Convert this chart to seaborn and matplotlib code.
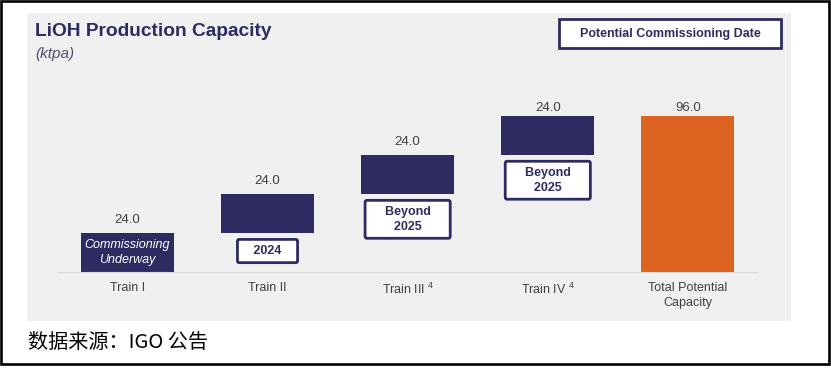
import matplotlib
matplotlib.use('Agg')
import matplotlib.pyplot as plt
import seaborn as sns
import pandas as pd
from matplotlib.patches import Rectangle

categories = ['Train I', 'Train II', 'Train III', 'Train IV', 'Total Potential\nCapacity']
footnotes = ['', '', '4', '4', '']
capacity = [24.0, 24.0, 24.0, 24.0, 96.0]
dates = ['Commissioning\nUnderway', '2024', 'Beyond\n2025', 'Beyond\n2025', '']

navy = '#2e2b63'
orange = '#dc6420'
panel = '#f0f0f0'
grey_txt = '#404040'

sns.set_style('white')
plt.rcParams['font.family'] = ['Liberation Sans', 'DejaVu Sans']
plt.rcParams['mathtext.default'] = 'regular'

# waterfall: trains stack on each other, the total starts from zero
bases = [sum(capacity[:i]) for i in range(4)] + [0.0]
labels = [c + (f' $^{{{f}}}$' if f else '') for c, f in zip(categories, footnotes)]
df = pd.DataFrame({'cat': labels, 'cap': capacity})

W, H = 831, 368
fig = plt.figure(figsize=(W / 100, H / 100), dpi=100)
fig.patch.set_facecolor('white')

# grey panel + black frame
fig.add_artist(Rectangle((27 / W, 47.3 / H), 764 / W, 308 / H, transform=fig.transFigure,
                         facecolor=panel, edgecolor='none', zorder=0))
fig.add_artist(Rectangle((1.3 / W, 4.5 / H), 827.7 / W, 362.7 / H, transform=fig.transFigure,
                         facecolor='none', edgecolor='black', lw=1.9, zorder=5))

ax = fig.add_axes([57.3 / W, (H - 272.3) / H, 700.7 / W, 232.3 / H])
ax.set_facecolor('none')

sns.barplot(data=df, x='cat', y='cap', bottom=bases, color=navy, saturation=1,
            width=0.664, errorbar=None, linewidth=0, ax=ax)
ax.patches[-1].set_facecolor(orange)

# the last two labels sit a little closer to their bars in the original
label_pad = [5, 5, 5, 1.5, 1.5]
for i, (b, v) in enumerate(zip(bases, capacity)):
    ax.annotate(f'{v:.1f}', (i, b + v), xytext=(0, label_pad[i]), textcoords='offset points',
                ha='center', va='bottom', fontsize=9.5, color=grey_txt)

# commissioning dates
ax.text(0, bases[0] + capacity[0] / 2, dates[0], ha='center', va='center', color='white',
        fontsize=9, style='italic', linespacing=1.35)
for i in range(1, 4):
    sp = '   ' if '\n' not in dates[i] else '    '
    txt = '\n'.join(sp + s + sp for s in dates[i].split('\n'))
    ax.annotate(txt, (i, bases[i]), xytext=(0, -8.5), textcoords='offset points',
                ha='center', va='top', fontsize=9, fontweight='bold', color=navy,
                linespacing=1.3,
                bbox=dict(boxstyle='round,pad=0.45,rounding_size=0.15', fc='white', ec=navy, lw=2))

ax.set_xlim(-0.5, 4.5)
ax.set_ylim(0, 142.7)
ax.set_xlabel('')
ax.set_ylabel('')
ax.set_yticks([])
sns.despine(ax=ax, left=True)
ax.spines['bottom'].set_color('#d9d9d9')
ax.spines['bottom'].set_linewidth(0.8)
ax.tick_params(axis='x', length=0, pad=7, labelsize=9, labelcolor=grey_txt)
for t in ax.get_xticklabels():
    t.set_linespacing(1.35)

# headings
fig.text(35 / W, (H - 36) / H, 'LiOH Production Capacity', fontsize=13.8, fontweight='bold',
         color=navy, va='baseline')
fig.text(35 / W, (H - 58) / H, '(ktpa)', fontsize=11, style='italic', color='#4d4b70', va='baseline')

fig.add_artist(Rectangle((559 / W, (H - 48) / H), 222 / W, 29 / H, transform=fig.transFigure,
                         facecolor='white', edgecolor=navy, lw=2, zorder=3))
fig.text(670 / W, (H - 33.5) / H, 'Potential Commissioning Date', ha='center', va='center',
         fontsize=9, fontweight='bold', color=navy, zorder=4)

fig.text(28 / W, (H - 343) / H, '数据来源：IGO 公告', family=['Noto Sans CJK SC', 'DejaVu Sans'],
         fontsize=14.5, va='center', color='black')

fig.savefig('out.png', dpi=100)
